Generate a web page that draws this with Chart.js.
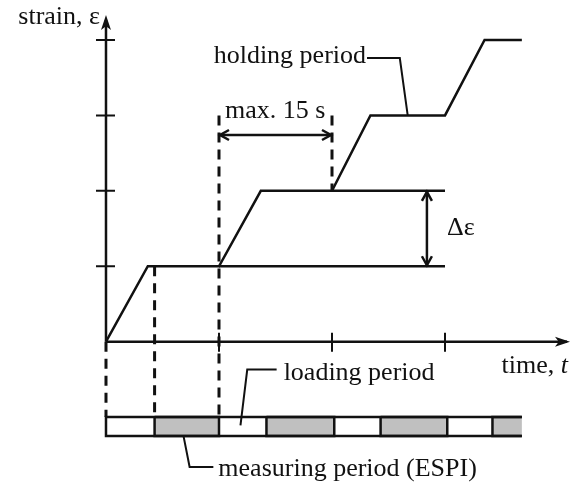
<!DOCTYPE html>
<html>
<head>
<meta charset="utf-8">
<script src="https://cdn.jsdelivr.net/npm/chart.js@4.4.1/dist/chart.umd.min.js"></script>
<style>
  html, body { margin: 0; padding: 0; background: #fff; }
  #chart { display: block; }
</style>
</head>
<body>
<canvas id="chart" width="571" height="485"></canvas>
<script>
// strain history: time in loading steps, strain in increments
const strainTime = [0, 0.37, 1, 1.37, 2, 2.34, 3, 3.35, 3.68];
const strainValue = [0, 1, 1, 2, 2, 3, 3, 4, 4];

// earlier plateaus drawn on to the right
const plateauLevel = [1, 2];
const plateauStart = [1, 2];
const plateauEnd = 3;

const timeTicks = [1, 2, 3];
const strainTicks = [1, 2, 3, 4];

// dashed guides: time, upper strain, lower strain
const guideTime = [0, 0.43, 1, 2];
const guideTop = [0, 1, 3, 3];
const guideBottom = [-1, -1, -1, 2];

// loading / measuring strip below the axis
const stripTop = -1;
const stripBottom = -1.25;
const stripEnd = 3.68;
const measureStart = [0.43, 1.42, 2.43, 3.42];
const measureEnd = [1.0, 2.02, 3.02, 3.68];

// dimension arrows
const holdSpan = [1, 2];
const holdArrowLevel = 2.74;
const deltaTime = 2.84;
const deltaRange = [1, 2];

// leader lines for the labels
const holdingLeaderT = [2.31, 2.6, 2.67];
const holdingLeaderS = [3.76, 3.76, 3.0];
const loadingLeaderT = [1.51, 1.25, 1.19];
const loadingLeaderS = [-0.37, -0.37, -1.11];
const measuringLeaderT = [0.67, 0.74, 0.95];
const measuringLeaderS = [-1.13, -1.66, -1.66];

const INK = "#111";
const FONT = '26px "Liberation Serif", "Times New Roman", serif';

function pts(xs, ys) {
  return xs.map((x, i) => ({ x, y: ys[i] }));
}

function line(points, extra) {
  return Object.assign({
    data: points,
    showLine: true,
    pointRadius: 0,
    borderColor: INK,
    borderWidth: 2.5,
    fill: false,
    tension: 0,
  }, extra || {});
}

const datasets = [];

// strip outline (open at the right)
datasets.push(line(pts([stripEnd, 0, 0, stripEnd], [stripTop, stripTop, stripBottom, stripBottom])));

// measuring periods
measureStart.forEach((start, i) => {
  const end = measureEnd[i];
  const xs = end >= stripEnd ? [end, start, start, end] : [start, end, end, start, start];
  const ys = end >= stripEnd
    ? [stripTop, stripTop, stripBottom, stripBottom]
    : [stripTop, stripTop, stripBottom, stripBottom, stripTop];
  datasets.push(line(pts(xs, ys), { fill: "shape", backgroundColor: "#c0c0c0" }));
});

// dashed guides
guideTime.forEach((t, i) => {
  datasets.push(line(pts([t, t], [guideTop[i], guideBottom[i]]), { borderDash: [10, 7], borderWidth: 3 }));
});

// plateaus
plateauLevel.forEach((s, i) => {
  datasets.push(line(pts([plateauStart[i], plateauEnd], [s, s])));
});

// main strain curve
datasets.push(line(pts(strainTime, strainValue)));

// dimension lines
datasets.push(line(pts(holdSpan, [holdArrowLevel, holdArrowLevel])));
datasets.push(line(pts([deltaTime, deltaTime], deltaRange)));

// leaders
datasets.push(line(pts(holdingLeaderT, holdingLeaderS), { borderWidth: 2 }));
datasets.push(line(pts(loadingLeaderT, loadingLeaderS), { borderWidth: 2 }));
datasets.push(line(pts(measuringLeaderT, measuringLeaderS), { borderWidth: 2 }));

function filledArrow(ctx, x, y, dx, dy) {
  const len = 15, half = 5;
  const px = -dy, py = dx;
  ctx.beginPath();
  ctx.moveTo(x, y);
  ctx.lineTo(x - dx * len + px * half, y - dy * len + py * half);
  ctx.lineTo(x - dx * len * 0.75, y - dy * len * 0.75);
  ctx.lineTo(x - dx * len - px * half, y - dy * len - py * half);
  ctx.closePath();
  ctx.fill();
}

function openArrow(ctx, x, y, dx, dy) {
  const len = 9, half = 5;
  const px = -dy, py = dx;
  ctx.beginPath();
  ctx.moveTo(x - dx * len + px * half, y - dy * len + py * half);
  ctx.lineTo(x, y);
  ctx.lineTo(x - dx * len - px * half, y - dy * len - py * half);
  ctx.stroke();
}

const sketchPlugin = {
  id: "sketch",
  afterDatasetsDraw(chart) {
    const ctx = chart.ctx;
    const xs = chart.scales.x;
    const ys = chart.scales.y;
    const x0 = xs.getPixelForValue(0);
    const y0 = ys.getPixelForValue(0);

    ctx.save();
    ctx.strokeStyle = INK;
    ctx.fillStyle = INK;
    ctx.lineWidth = 2.5;
    ctx.lineCap = "butt";

    // axes
    ctx.beginPath();
    ctx.moveTo(x0, y0);
    ctx.lineTo(x0, 20);
    ctx.moveTo(x0, y0);
    ctx.lineTo(chart.width - 4, y0);
    ctx.stroke();
    filledArrow(ctx, x0, 15, 0, -1);
    filledArrow(ctx, chart.width - 1, y0, 1, 0);

    // ticks crossing the axes
    ctx.lineWidth = 2;
    ctx.beginPath();
    strainTicks.forEach((s) => {
      const y = ys.getPixelForValue(s);
      ctx.moveTo(x0 - 10, y);
      ctx.lineTo(x0 + 9, y);
    });
    timeTicks.forEach((t) => {
      const x = xs.getPixelForValue(t);
      ctx.moveTo(x, y0 - 9);
      ctx.lineTo(x, y0 + 10);
    });
    ctx.stroke();

    // dimension arrow heads
    ctx.lineWidth = 2.5;
    const ha = ys.getPixelForValue(holdArrowLevel);
    openArrow(ctx, xs.getPixelForValue(holdSpan[0]) + 1, ha, -1, 0);
    openArrow(ctx, xs.getPixelForValue(holdSpan[1]) - 1, ha, 1, 0);
    const dx = xs.getPixelForValue(deltaTime);
    openArrow(ctx, dx, ys.getPixelForValue(deltaRange[1]) + 1, 0, -1);
    openArrow(ctx, dx, ys.getPixelForValue(deltaRange[0]) - 1, 0, 1);

    // labels
    ctx.font = FONT;
    ctx.textBaseline = "alphabetic";

    ctx.textAlign = "right";
    ctx.fillText("strain, \u03b5", x0 - 6, 24);

    ctx.fillText("holding period",
      xs.getPixelForValue(holdingLeaderT[0]) - 1,
      ys.getPixelForValue(holdingLeaderS[0]) + 5);

    ctx.textAlign = "left";
    ctx.fillText("max. 15 s", xs.getPixelForValue(holdSpan[0]) + 6, ha - 17);

    ctx.fillText("\u0394\u03b5", dx + 20, ys.getPixelForValue((deltaRange[0] + deltaRange[1]) / 2) + 6);

    ctx.fillText("loading period",
      xs.getPixelForValue(loadingLeaderT[0]) + 7,
      ys.getPixelForValue(loadingLeaderS[0]) + 10);

    ctx.fillText("measuring period (ESPI)",
      xs.getPixelForValue(measuringLeaderT[2]) + 5,
      ys.getPixelForValue(measuringLeaderS[2]) + 9);

    // time, t  (t in italics)
    ctx.font = 'italic ' + FONT;
    const tw = ctx.measureText("t").width;
    const right = chart.width - 3;
    ctx.fillText("t", right - tw, y0 + 31);
    ctx.font = FONT;
    ctx.textAlign = "right";
    ctx.fillText("time, ", right - tw, y0 + 31);

    ctx.restore();
  },
};

new Chart(document.getElementById("chart"), {
  type: "scatter",
  data: { datasets },
  options: {
    responsive: false,
    animation: false,
    devicePixelRatio: 1,
    layout: { padding: 0 },
    plugins: { legend: { display: false }, tooltip: { enabled: false } },
    scales: {
      x: { type: "linear", min: -0.938, max: 4.115, display: false },
      y: { type: "linear", min: -1.9, max: 4.53, display: false },
    },
  },
  plugins: [sketchPlugin],
});
</script>
</body>
</html>
